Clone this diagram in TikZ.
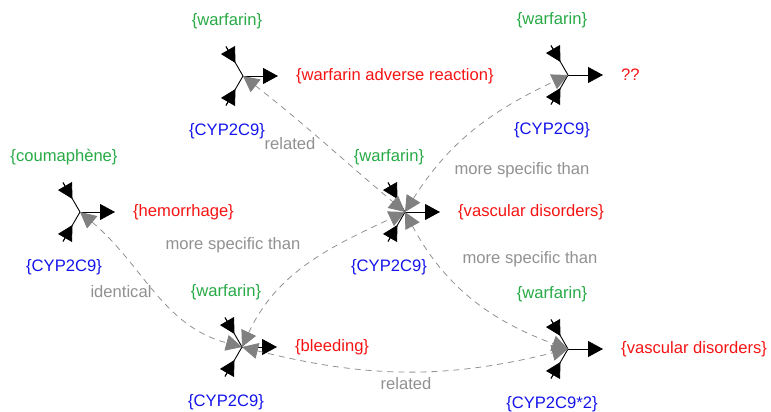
\documentclass[tikz,border=0pt]{standalone}
\usepackage{fontspec}
\setmainfont{Liberation Sans}
\usetikzlibrary{arrows.meta,calc}
\definecolor{lblgreen}{RGB}{40,170,70}
\definecolor{lblblue}{RGB}{20,20,235}
\definecolor{lblred}{RGB}{245,20,20}
\definecolor{edgegray}{RGB}{145,145,145}
\definecolor{tipgray}{RGB}{128,128,128}
\tikzset{
  arm/.style={black, line width=0.9pt},
  armtip/.style={black, line width=0.9pt, -{Triangle[length=15pt,width=16pt]}},
  rel/.style={draw=edgegray, line width=0.8pt, dash pattern=on 6pt off 5pt,
    >={Triangle[length=16pt,width=16pt,color=tipgray]}, <->},
  txt/.style={font=\fontsize{16.6}{19}\selectfont, inner sep=0pt},
  greenlbl/.style={txt, text=lblgreen},
  bluelbl/.style={txt, text=lblblue},
  redlbl/.style={txt, text=lblred, anchor=west},
  edgelbl/.style={txt, text=edgegray},
}
\newcommand\glyph[6]{%
  \coordinate (#1) at (#2,#3);
  \coordinate (#1-ul) at ($(#1)+(120:34)$);
  \coordinate (#1-ulm) at ($(#1)+(120:15)$);
  \coordinate (#1-ll) at ($(#1)+(240:34)$);
  \coordinate (#1-llm) at ($(#1)+(240:15)$);
  \coordinate (#1-r) at ($(#1)+(35,0)$);
  \draw[arm] (#1-ul) -- (#1);
  \draw[arm] (#1-ll) -- (#1);
  \draw[armtip] (#1-ul) -- (#1-ulm);
  \draw[armtip] (#1-ll) -- (#1-llm);
  \draw[armtip] (#1) -- (#1-r);
  \node[greenlbl] (#1-g) at ($(#1)+(-16,55)$) {#4};
  \node[bluelbl] (#1-b) at ($(#1)+(-16,-55)$) {#5};
  \node[redlbl] (#1-t) at ($(#1)+(53,0)$) {#6};
}
\begin{document}
\begin{tikzpicture}[x=1pt,y=1pt]
\useasboundingbox (0,0) rectangle (771,412);
\glyph{A}{243}{336}{\{warfarin\}}{\{CYP2C9\}}{\{warfarin adverse reaction\}}
\glyph{B}{80}{200}{\{coumaphène\}}{\{CYP2C9\}}{\{hemorrhage\}}
\glyph{C}{405}{200}{\{warfarin\}}{\{CYP2C9\}}{\{vascular disorders\}}
\glyph{D}{568}{337}{\{warfarin\}}{\{CYP2C9\}}{??}
\glyph{E}{242}{65}{\{warfarin\}}{\{CYP2C9\}}{\{bleeding\}}
\glyph{F}{568}{63}{\{warfarin\}}{\{CYP2C9*2\}}{\{vascular disorders\}}
\draw[rel] (A) to[out=-38,in=140] (C);
\draw[rel] (B) to[out=-40,in=165] (E);
\draw[rel] (E) to[out=65,in=205] (C);
\draw[rel] (C) to[out=58,in=205] (D);
\draw[rel] (C) to[out=-62,in=160] (F);
\draw[rel] (E) to[out=-14,in=194] (F);
\node[edgelbl] (l1) at (290,268) {related};
\node[edgelbl] (l2) at (121,120) {identical};
\node[edgelbl] (l3) at (233,167) {more specific than};
\node[edgelbl] (l4) at (522,242) {more specific than};
\node[edgelbl] (l5) at (530,153) {more specific than};
\node[edgelbl] (l6) at (406,28) {related};
\end{tikzpicture}
\end{document}
